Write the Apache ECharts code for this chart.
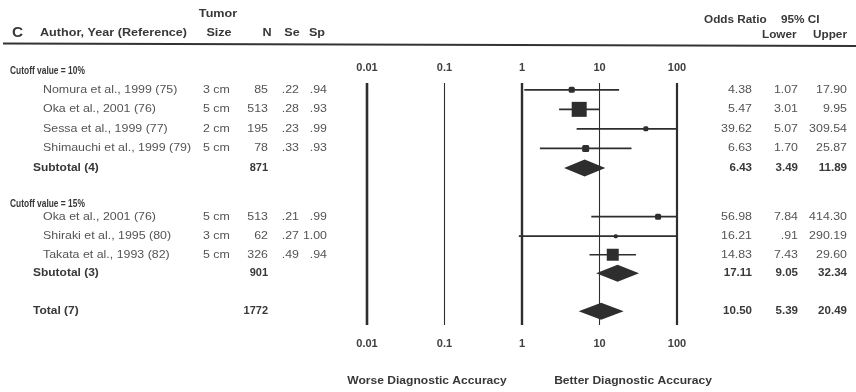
<!DOCTYPE html>
<html>
<head>
<meta charset="utf-8">
<script src="https://cdn.jsdelivr.net/npm/echarts/dist/echarts.min.js"></script>
<style>
  html, body { margin: 0; padding: 0; background: #fff; }
  #chart { width: 856px; height: 392px; }
</style>
</head>
<body>
<div id="chart"></div>
<script>
// ---- Study data (cutoff 10% first, then cutoff 15%) ----
const studies = [
  'Nomura et al., 1999 (75)',
  'Oka et al., 2001 (76)',
  'Sessa et al., 1999 (77)',
  'Shimauchi et al., 1999 (79)',
  'Oka et al., 2001 (76)',
  'Shiraki et al., 1995 (80)',
  'Takata et al., 1993 (82)'
];
const tumorSize = ['3 cm', '5 cm', '2 cm', '5 cm', '5 cm', '3 cm', '5 cm'];
const sampleN = [85, 513, 195, 78, 513, 62, 326];
const sensitivity = [0.22, 0.28, 0.23, 0.33, 0.21, 0.27, 0.49];
const specificity = [0.94, 0.93, 0.99, 0.93, 0.99, 1.00, 0.94];
const oddsRatio = [4.38, 5.47, 39.62, 6.63, 56.98, 16.21, 14.83];
const ciLower = [1.07, 3.01, 5.07, 1.70, 7.84, 0.91, 7.43];
const ciUpper = [17.90, 9.95, 309.54, 25.87, 414.30, 290.19, 29.60];

// ---- Pooled estimates ----
const groupLabels = ['Cutoff value = 10%', 'Cutoff value = 15%'];
const summaryLabels = ['Subtotal (4)', 'Sbutotal (3)', 'Total (7)'];
const summaryN = [871, 901, 1772];
const summaryOR = [6.43, 17.11, 10.50];
const summaryLower = [3.49, 9.05, 5.39];
const summaryUpper = [11.89, 32.34, 20.49];

// ---- Axis ticks ----
const axisTicks = [0.01, 0.1, 1, 10, 100];
const axisTickLabels = ['0.01', '0.1', '1', '10', '100'];
const directionLabels = ['Worse Diagnostic Accuracy', 'Better Diagnostic Accuracy'];

// ---- Layout (row slots on the vertical axis, marker sizes, columns) ----
const studyRow = [0, 1, 2, 3, 6.5, 7.5, 8.45];
const summaryRow = [4, 9.4, 11.35];
const groupRow = [-0.95, 5.85];
const markerSize = [6, 15, 5, 7, 6, 4, 12];
const decadeLineWidth = [2.6, 1.1, 2.4, 1.1, 2.2];
const DIAMOND_H = 17;
const INK = '#2e2e2e';
const TEXT = '#545454';
const BOLD = '#383838';
const FONT = '"Liberation Sans", Arial, Helvetica, sans-serif';
const SX = 1.18; // type is set slightly wide
const col = { group: 10, name: 43, summary: 33, size: 203, n: 268, se: 299, sp: 327, or: 752, lo: 798, hi: 847 };

const fmt = v => v.toFixed(2).replace(/^0\./, '.');

// Table rows built from the arrays above
const tableRows = [];
groupLabels.forEach((g, i) => tableRows.push({
  row: groupRow[i],
  cells: [{ t: g, x: col.group, a: 'left', b: true, s: 10, sx: 0.84 }]
}));
studies.forEach((s, i) => tableRows.push({
  row: studyRow[i],
  cells: [
    { t: s, x: col.name, a: 'left' },
    { t: tumorSize[i], x: col.size, a: 'left' },
    { t: String(sampleN[i]), x: col.n, a: 'right' },
    { t: fmt(sensitivity[i]), x: col.se, a: 'right' },
    { t: fmt(specificity[i]), x: col.sp, a: 'right' },
    { t: fmt(oddsRatio[i]), x: col.or, a: 'right' },
    { t: fmt(ciLower[i]), x: col.lo, a: 'right' },
    { t: fmt(ciUpper[i]), x: col.hi, a: 'right' }
  ]
}));
summaryLabels.forEach((s, i) => tableRows.push({
  row: summaryRow[i],
  cells: [
    { t: s, x: col.summary, a: 'left', b: true, sx: 1.14 },
    { t: String(summaryN[i]), x: col.n, a: 'right', b: true, s: 10, sx: 1.1 },
    { t: fmt(summaryOR[i]), x: col.or, a: 'right', b: true, sx: 1.1 },
    { t: fmt(summaryLower[i]), x: col.lo, a: 'right', b: true, sx: 1.1 },
    { t: fmt(summaryUpper[i]), x: col.hi, a: 'right', b: true, sx: 1.1 }
  ]
}));

const chart = echarts.init(document.getElementById('chart'), null, { renderer: 'canvas' });

const logAxis = (position, margin) => ({
  type: 'log',
  logBase: 10,
  min: axisTicks[0],
  max: axisTicks[axisTicks.length - 1],
  position: position,
  gridIndex: 0,
  axisLine: { show: false },
  axisTick: { show: false },
  splitLine: { show: false },
  axisLabel: {
    margin: margin,
    fontFamily: FONT,
    fontSize: 11,
    fontWeight: 'bold',
    color: '#404040',
    showMinLabel: true,
    showMaxLabel: true,
    formatter: v => axisTickLabels[Math.round(Math.log10(v)) + 2]
  }
});

// Header / footer text element
const label = (x, y, text, opt) => ({
  type: 'text', x: x, y: y, scaleX: (opt && opt.sx) || 1.2,
  style: {
    text: text,
    font: 'bold ' + ((opt && opt.s) || 10.5) + 'px ' + FONT,
    fill: BOLD,
    align: (opt && opt.a) || 'left',
    verticalAlign: 'middle'
  }
});

chart.setOption({
  animation: false,
  backgroundColor: '#ffffff',
  grid: { left: 367, right: 179, top: 83, bottom: 67 },
  xAxis: [logAxis('top', 10), logAxis('bottom', 13)],
  yAxis: { type: 'value', inverse: true, min: -0.35, max: 12.05, show: false },
  series: [
    {
      // decade reference lines
      type: 'custom',
      xAxisIndex: 0,
      data: axisTicks.map((v, i) => [v, 0, decadeLineWidth[i]]),
      renderItem(params, api) {
        const cs = params.coordSys;
        const x = api.coord([api.value(0), 0])[0];
        return {
          type: 'line',
          shape: { x1: x, y1: cs.y, x2: x, y2: cs.y + cs.height },
          style: { stroke: INK, lineWidth: api.value(2) }
        };
      }
    },
    {
      // individual studies: CI line and weighted square
      type: 'custom',
      xAxisIndex: 0,
      clip: true,
      data: oddsRatio.map((v, i) => [v, studyRow[i], ciLower[i], ciUpper[i], markerSize[i]]),
      encode: { x: 0, y: 1 },
      renderItem(params, api) {
        const p = api.coord([api.value(0), api.value(1)]);
        const lo = api.coord([api.value(2), api.value(1)]);
        const hi = api.coord([api.value(3), api.value(1)]);
        const s = api.value(4);
        return {
          type: 'group',
          children: [
            { type: 'line', shape: { x1: lo[0], y1: p[1], x2: hi[0], y2: p[1] },
              style: { stroke: INK, lineWidth: 1.7 } },
            { type: 'rect', shape: { x: p[0] - s / 2, y: p[1] - s / 2, width: s, height: s, r: s < 8 ? 1.5 : 0 },
              style: { fill: INK } }
          ]
        };
      }
    },
    {
      // pooled estimates: diamonds
      type: 'custom',
      xAxisIndex: 0,
      data: summaryOR.map((v, i) => [v, summaryRow[i], summaryLower[i], summaryUpper[i]]),
      encode: { x: 0, y: 1 },
      renderItem(params, api) {
        const p = api.coord([api.value(0), api.value(1)]);
        const lo = api.coord([api.value(2), api.value(1)]);
        const hi = api.coord([api.value(3), api.value(1)]);
        const h = DIAMOND_H / 2;
        return {
          type: 'polygon',
          shape: { points: [[lo[0], p[1]], [p[0], p[1] - h], [hi[0], p[1]], [p[0], p[1] + h]] },
          style: { fill: INK }
        };
      }
    },
    {
      // table text aligned to the same rows
      type: 'custom',
      xAxisIndex: 0,
      clip: false,
      data: tableRows.map(r => [1, r.row]),
      renderItem(params, api) {
        const r = tableRows[params.dataIndex];
        const y = api.coord([1, r.row])[1];
        return {
          type: 'group',
          children: r.cells.map(c => ({
            type: 'text',
            x: c.x,
            y: y,
            scaleX: c.sx || SX,
            style: {
              text: c.t,
              fill: c.b ? BOLD : TEXT,
              font: (c.b ? 'bold ' : '') + (c.s || 10.5) + 'px ' + FONT,
              align: c.a,
              verticalAlign: 'middle'
            }
          }))
        };
      }
    }
  ],
  graphic: [
    { type: 'line', shape: { x1: 3, y1: 43.5, x2: 856, y2: 46 }, style: { stroke: '#333', lineWidth: 2.2 } },
    label(12, 33, 'C', { s: 14, sx: 1.1 }),
    label(40, 33, 'Author, Year (Reference)'),
    label(218, 14, 'Tumor', { a: 'center' }),
    label(219, 33, 'Size', { a: 'center' }),
    label(267, 33, 'N', { a: 'center' }),
    label(292, 33, 'Se', { a: 'center' }),
    label(317, 33, 'Sp', { a: 'center' }),
    label(704, 20, 'Odds Ratio', { sx: 1.12 }),
    label(781, 20, '95% CI', { sx: 1.12 }),
    label(762, 35, 'Lower', { sx: 1.12 }),
    label(813, 35, 'Upper', { sx: 1.12 }),
    label(427, 381, directionLabels[0], { a: 'center', sx: 1.15 }),
    label(633, 381, directionLabels[1], { a: 'center', sx: 1.15 })
  ]
});
</script>
</body>
</html>
